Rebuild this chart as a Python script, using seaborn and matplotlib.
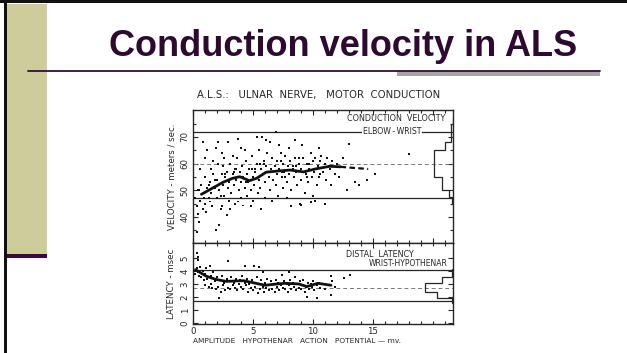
import numpy as np
import pandas as pd
import matplotlib
matplotlib.use("Agg")
import matplotlib.pyplot as plt
from matplotlib.patches import Rectangle
from matplotlib.lines import Line2D
import seaborn as sns

# ---------------- data ----------------
vel_x = [0.2,0.3,0.3,0.4,0.5,0.5,0.6,0.7,0.8,0.8,0.9,1.0,1.0,1.1,1.2,1.2,1.3,1.4,1.4,1.5,1.5,1.6,1.7,1.8,1.9,1.9,2.0,2.0,2.1,2.1,
         2.2,2.2,2.3,2.4,2.4,2.5,2.5,2.6,2.7,2.8,2.8,2.9,2.9,3.0,3.0,3.05,3.1,3.2,3.3,3.4,3.5,3.5,3.6,3.7,3.75,3.75,3.8,3.9,4.0,4.0,
         4.1,4.2,4.2,4.3,4.4,4.5,4.5,4.6,4.7,4.8,4.9,5.0,5.0,5.1,5.2,5.3,5.3,5.4,5.5,5.5,5.6,5.7,5.75,5.8,5.9,6.0,6.0,6.1,6.2,6.3,
         6.4,6.4,6.5,6.6,6.7,6.8,6.9,6.9,7.0,7.0,7.1,7.2,7.3,7.4,7.5,7.5,7.6,7.7,7.8,7.9,8.0,8.0,8.1,8.2,8.3,8.4,8.5,8.6,8.7,8.8,
         8.9,9.0,9.0,9.1,9.2,9.3,9.4,9.5,9.6,9.7,9.8,9.9,10.0,10.0,10.1,10.2,10.3,10.4,10.5,10.6,10.7,10.8,11.0,11.1,11.2,11.4,11.5,11.6,11.8,12.0,
         12.2,12.5,13.0,13.5,14.5,15.2,18.0,4.8,6.6,7.8,9.0,10.2,5.7,8.2,11.0,2.6,3.3,4.3,1.7,0.6,9.8,12.8,13.8,6.1,8.5,10.5,7.2,4.0,2.4,1.0,
         5.2,5.6,6.2,6.8,7.3,7.7,8.3,8.8,9.3,9.7,10.1,10.6,11.3,3.4,3.9,4.4,4.9,1.3,1.8,2.3,0.9,0.4,2.7,3.6,4.6,5.9,6.5,7.4,8.6,9.5]
vel_y = [47,44,34.5,41,38.3,50,46,52,43,68.2,49,45,55,42,65,51,47,45.8,53,58,49,44,56,51,35,66,47,54,68.2,60,
         37,50,43,44,56,52,59,48,55,40.8,57,68.2,51,46,53,43,60,49,56,52,45,58,54,62,69.2,45.8,50,57,53,47,
         59,44.3,55,51,61,56,48,53,58,50,63,55,46,52,57,70,60,49,54,65,51,58,70,56,61,53,47,59,64,55,
         68.2,50,57,62,54,59,71.7,52,56,61,48,58,64,55,60,51,57,63,53,59,56,66,61,50,58,55,62,57,52,60,
         45,58,54,67,62,49,56,60,53,58,64,55,61,48,57,62,52,59,55,61,63,57,60,54,62,58,52,61,56,60,
         55,62,67.5,53,54,56,63.5,44,46,47,44.5,46,43,44,45,62,63,65,61,58,45.5,50,52,69,69,66,67,66,64,62,
         58,60,57,59,61,55,59,62,57,60,58,56,59,57,55,53,58,52,54,48,47,50,56,58,54,60,58,57,59,55]

lat_x = [0.1,0.2,0.3,0.3,0.4,0.4,0.45,0.5,0.6,0.7,0.8,0.9,1.0,1.0,1.1,1.2,1.3,1.4,1.5,1.5,1.6,1.7,1.8,1.9,2.0,2.1,2.2,2.2,2.3,2.4,
         2.5,2.6,2.7,2.8,2.9,2.9,3.0,3.1,3.2,3.3,3.4,3.5,3.6,3.7,3.8,3.9,4.0,4.1,4.2,4.3,4.3,4.4,4.5,4.6,4.7,4.8,4.9,5.0,5.1,5.1,
         5.2,5.3,5.4,5.5,5.5,5.6,5.7,5.8,5.8,5.9,6.0,6.1,6.2,6.3,6.4,6.5,6.6,6.7,6.8,6.9,7.0,7.1,7.2,7.3,7.4,7.5,7.6,7.7,7.8,7.9,
         8.0,8.0,8.1,8.2,8.3,8.4,8.5,8.6,8.7,8.8,8.9,9.0,9.1,9.2,9.3,9.4,9.5,9.6,9.7,9.8,9.9,10.0,10.1,10.3,10.3,10.5,10.6,10.8,11.0,11.2,
         11.5,11.5,11.6,11.8,12.6,13.1]
lat_y = [4.0,3.8,5.36,4.2,5.1,3.9,4.85,3.6,4.3,3.5,4.0,3.3,3.8,2.9,4.2,3.4,2.8,4.4,3.6,3.0,2.7,3.9,3.2,2.6,3.5,2.8,1.9,3.3,2.4,3.6,
         2.9,3.1,2.5,3.4,4.8,2.7,3.2,2.6,3.5,2.9,3.1,2.7,3.4,2.5,3.0,3.3,2.8,3.6,2.6,4.4,3.1,2.9,3.4,2.4,3.0,2.7,3.3,2.5,4.4,3.1,
         2.8,3.5,2.3,4.3,3.0,2.6,3.3,3.9,2.8,2.4,3.1,2.7,3.4,2.5,2.9,3.2,2.6,3.0,2.4,3.3,2.8,3.1,2.5,2.9,3.7,2.7,3.2,2.6,3.0,2.4,
         3.9,2.9,3.3,2.6,3.1,2.8,3.5,2.5,3.0,2.7,3.2,2.6,2.9,3.3,2.4,2.8,2.0,3.1,2.6,3.0,2.8,3.2,2.5,1.9,2.9,3.1,2.7,3.0,2.6,2.9,
         3.6,2.15,3.2,2.8,3.45,3.7]

vel_trend_x = [0.7,1.5,2.5,3.3,3.9,4.7,5.3,6.1,7.0,8.1,9.2,10.2,11.4,12.3]
vel_trend_y = [48.5,50.5,53.0,54.5,55.1,53.6,54.5,56.8,57.2,57.6,56.9,58.0,59.0,58.8]
vel_ext_x = [12.3,13.1,14.6]
vel_ext_y = [58.8,58.5,58.0]

lat_trend_x = [0.2,1.1,1.9,2.75,4.2,5.0,6.0,7.0,7.7,8.8,9.5,10.4,11.5]
lat_trend_y = [4.1,3.6,3.35,3.2,3.25,3.1,2.9,3.0,3.05,3.0,2.8,3.05,2.9]

vel_ref = [72, 60, 47]          # upper limit, mean, lower limit
lat_ref = [4.1, 2.7, 1.7]

vel_hist_edges = [45, 47.5, 50, 55, 65, 68, 75, 77]
vel_hist_width = [0.08, 0.33, 0.92, 1.6, 0.67, 0.17, 0.04]
lat_hist_edges = [1.55, 1.9, 2.4, 3.1, 3.55, 4.15]
lat_hist_width = [0.08, 1.33, 2.33, 0.92, 0.08]

vel_yticks = [40, 50, 60, 70]
lat_yticks = [0, 1, 2, 3, 4, 5]
x_ticks = [0, 5, 10, 15]

XMAX = 21.67
INK = "#262626"

# ---------------- figure ----------------
sns.set_theme(style="white")
plt.rcParams['font.family'] = ['DejaVu Sans']
W, H = 627, 353
fig = plt.figure(figsize=(W / 100, H / 100), dpi=100)
fig.patch.set_facecolor("white")

def fx(px):
    return px / W

def fy(py):
    return 1 - py / H

# slide decorations
fig.add_artist(Rectangle((fx(7), fy(254)), fx(40), 250 / H, transform=fig.transFigure,
                         facecolor="#CDCC9A", edgecolor="none"))
fig.add_artist(Rectangle((fx(7), fy(257.5)), fx(40), 3.5 / H, transform=fig.transFigure,
                         facecolor="#3A0A3A", edgecolor="none"))
fig.add_artist(Rectangle((fx(3.5), 0), fx(3.5), 1, transform=fig.transFigure,
                         facecolor="#111111", edgecolor="none"))
fig.add_artist(Rectangle((0, fy(3)), 1, 3 / H, transform=fig.transFigure,
                         facecolor="#111111", edgecolor="none"))
fig.add_artist(Rectangle((fx(397), fy(76)), fx(203), 5 / H, transform=fig.transFigure,
                         facecolor="#A6A6A6", edgecolor="none"))
fig.add_artist(Line2D([fx(28), fx(600)], [fy(70.5), fy(70.5)], transform=fig.transFigure,
                      color="#3A0A3A", lw=1.3))
fig.text(fx(343), fy(46), "Conduction velocity in ALS", ha="center", va="center",
         fontsize=26, fontweight="bold", color="#2E0A30", family="Liberation Sans")

fig.text(fx(319), fy(95), "A.L.S.:   ULNAR  NERVE,   MOTOR  CONDUCTION", ha="center", va="center",
         fontsize=7.3, color=INK)

# axes
ax1 = fig.add_axes([fx(193), fy(243), fx(260), 133 / H])
ax2 = fig.add_axes([fx(193), fy(324), fx(260), 81 / H])

vel_df = pd.DataFrame({"amp": vel_x, "vel": vel_y})
lat_df = pd.DataFrame({"amp": lat_x, "lat": lat_y})

for ax in (ax1, ax2):
    ax.set_facecolor("white")
    for s in ax.spines.values():
        s.set_color(INK)
        s.set_linewidth(1.0)
        s.set_visible(True)

# upper panel
for v, ls in zip(vel_ref, ["-", (0, (4, 3)), "-"]):
    ax1.axhline(v, color=INK if ls == "-" else "#777777", lw=0.9 if ls == "-" else 0.7, ls=ls, zorder=1)
sns.scatterplot(data=vel_df, x="amp", y="vel", ax=ax1, s=2, marker="s", color="#111111",
                edgecolor="none", legend=False, zorder=3)
sns.lineplot(x=vel_trend_x, y=vel_trend_y, ax=ax1, color="#111111", lw=2.0, zorder=4)
sns.lineplot(x=vel_ext_x, y=vel_ext_y, ax=ax1, color="#111111", lw=1.6, ls=(0, (2.5, 1.5)), zorder=4)
ax1.stairs(np.array(XMAX) - np.array(vel_hist_width), vel_hist_edges, orientation="horizontal",
           baseline=XMAX, color=INK, lw=0.9)
ax1.text(21.0, 76.8, "CONDUCTION  VELOCITY", ha="right", va="center", fontsize=5.8, color=INK)
ax1.text(16.6, 72.2, "ELBOW\u2009-\u2009WRIST", ha="center", va="center", fontsize=5.6, color=INK,
         bbox=dict(facecolor="white", edgecolor="none", pad=0.6), zorder=5)
ax1.set_xlim(0, XMAX)
ax1.set_ylim(30.25, 80.1)
ax1.set_yticks(vel_yticks)
ax1.set_yticks(np.arange(35, 80, 5), minor=True)
ax1.set_xticks([0, 5, 10, 15, 20])
ax1.set_xticks(np.arange(0, 22, 1), minor=True)
ax1.set_xticklabels([])
ax1.set_xlabel("")
ax1.set_ylabel("VELOCITY - meters / sec.", fontsize=6.2, color=INK, labelpad=3)

# lower panel
for v, ls in zip(lat_ref, ["-", (0, (4, 3)), "-"]):
    ax2.axhline(v, color=INK if ls == "-" else "#777777", lw=0.9 if ls == "-" else 0.7, ls=ls, zorder=1)
sns.scatterplot(data=lat_df, x="amp", y="lat", ax=ax2, s=2, marker="s", color="#111111",
                edgecolor="none", legend=False, zorder=3)
sns.lineplot(x=lat_trend_x, y=lat_trend_y, ax=ax2, color="#111111", lw=2.0, zorder=4)
ax2.stairs(np.array(XMAX) - np.array(lat_hist_width), lat_hist_edges, orientation="horizontal",
           baseline=XMAX, color=INK, lw=0.9)
ax2.text(15.6, 5.3, "DISTAL  LATENCY", ha="center", va="center", fontsize=5.8, color=INK)
ax2.text(21.2, 4.55, "WRIST-HYPOTHENAR", ha="right", va="center", fontsize=5.5, color=INK)
ax2.set_xlim(0, XMAX)
ax2.set_ylim(-0.08, 6.15)
ax2.set_yticks(lat_yticks)
ax2.set_xticks(x_ticks)
ax2.set_xticks(np.arange(0, 22, 1), minor=True)
ax2.set_xlabel("")
ax2.set_ylabel("LATENCY - msec", fontsize=6.2, color=INK, labelpad=3)

for ax in (ax1, ax2):
    ax.tick_params(which="both", direction="in", top=True, right=True, bottom=True, left=True,
                   colors=INK, labelsize=6.2, width=0.8)
    ax.tick_params(which="major", length=3.5, pad=2.5)
    ax.tick_params(which="minor", length=2)
    for lab in ax.get_yticklabels():
        lab.set_rotation(90)
        lab.set_va("center")

fig.text(fx(193), fy(341), "AMPLITUDE   HYPOTHENAR   ACTION   POTENTIAL \u2014 mv.", ha="left", va="center",
         fontsize=5.3, color=INK)

fig.savefig("out.png", dpi=100)
